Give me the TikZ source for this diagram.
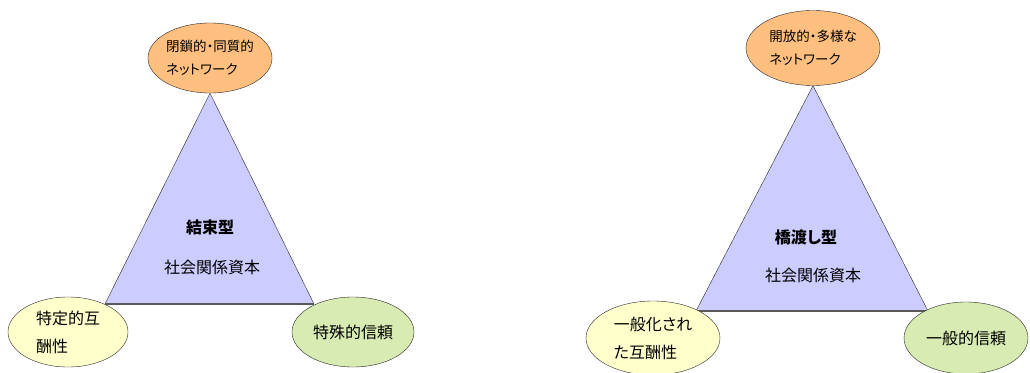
\documentclass[tikz,border=0pt]{standalone}
\usepackage{fontspec}
\setmainfont[RawFeature=+palt]{Noto Sans CJK JP}
\usetikzlibrary{shapes.geometric}
\definecolor{netfill}{RGB}{255,191,127}
\definecolor{recfill}{RGB}{255,255,204}
\definecolor{trustfill}{RGB}{216,235,178}
\definecolor{capfill}{RGB}{204,204,255}
\tikzset{
  bubble/.style={ellipse,draw=black!85,inner sep=0pt,align=left},
  topfont/.style={font=\fontsize{13.5}{23}\selectfont},
  lowfont/.style={font=\fontsize{16}{28}\selectfont},
  typefont/.style={font=\fontsize{16}{16}\selectfont\bfseries},
  capfont/.style={font=\fontsize{16}{16}\selectfont}
}
\begin{document}
\begin{tikzpicture}[x=1pt,y=-1pt]
  \useasboundingbox (0,0) rectangle (1030,372);
  % bonding
  \node[bubble,topfont,fill=netfill,minimum width=121pt,minimum height=70pt]
    (closednet) at (210,58) {閉鎖的・同質的\\ネットワーク};
  \coordinate (bondleft) at (105,304);
  \coordinate (bondright) at (314,304);
  \draw[fill=capfill,draw=black!85] (closednet.south) -- (bondright) -- (bondleft) -- cycle;
  \draw[line width=1.5pt,black!65] (bondleft) -- (bondright);
  \node[typefont] (bondtype) at (210,227) {結束型};
  \node[capfont] (bondcap) at (212,267) {社会関係資本};
  \node[bubble,lowfont,fill=recfill,minimum width=120pt,minimum height=70pt]
    (specrec) at (68,332) {特定的互\\酬性};
  \node[bubble,lowfont,fill=trustfill,minimum width=122pt,minimum height=70pt]
    (spectrust) at (353,332) {特殊的信頼};
  % bridging
  \node[bubble,topfont,fill=netfill,minimum width=134pt,minimum height=75pt]
    (opennet) at (813,48) {開放的・多様な\\ネットワーク};
  \coordinate (bridgeleft) at (696,311);
  \coordinate (bridgeright) at (928,311);
  \draw[fill=capfill,draw=black!85] (opennet.south) -- (bridgeright) -- (bridgeleft) -- cycle;
  \draw[line width=1.5pt,black!65] (bridgeleft) -- (bridgeright);
  \node[typefont] (bridgetype) at (806,237) {橋渡し型};
  \node[capfont] (bridgecap) at (813,275) {社会関係資本};
  \node[bubble,lowfont,fill=recfill,minimum width=134pt,minimum height=74pt]
    (genrec) at (653,338) {一般化され\\た互酬性};
  \node[bubble,lowfont,fill=trustfill,minimum width=124pt,minimum height=72pt]
    (gentrust) at (966,338) {一般的信頼};
\end{tikzpicture}
\end{document}
